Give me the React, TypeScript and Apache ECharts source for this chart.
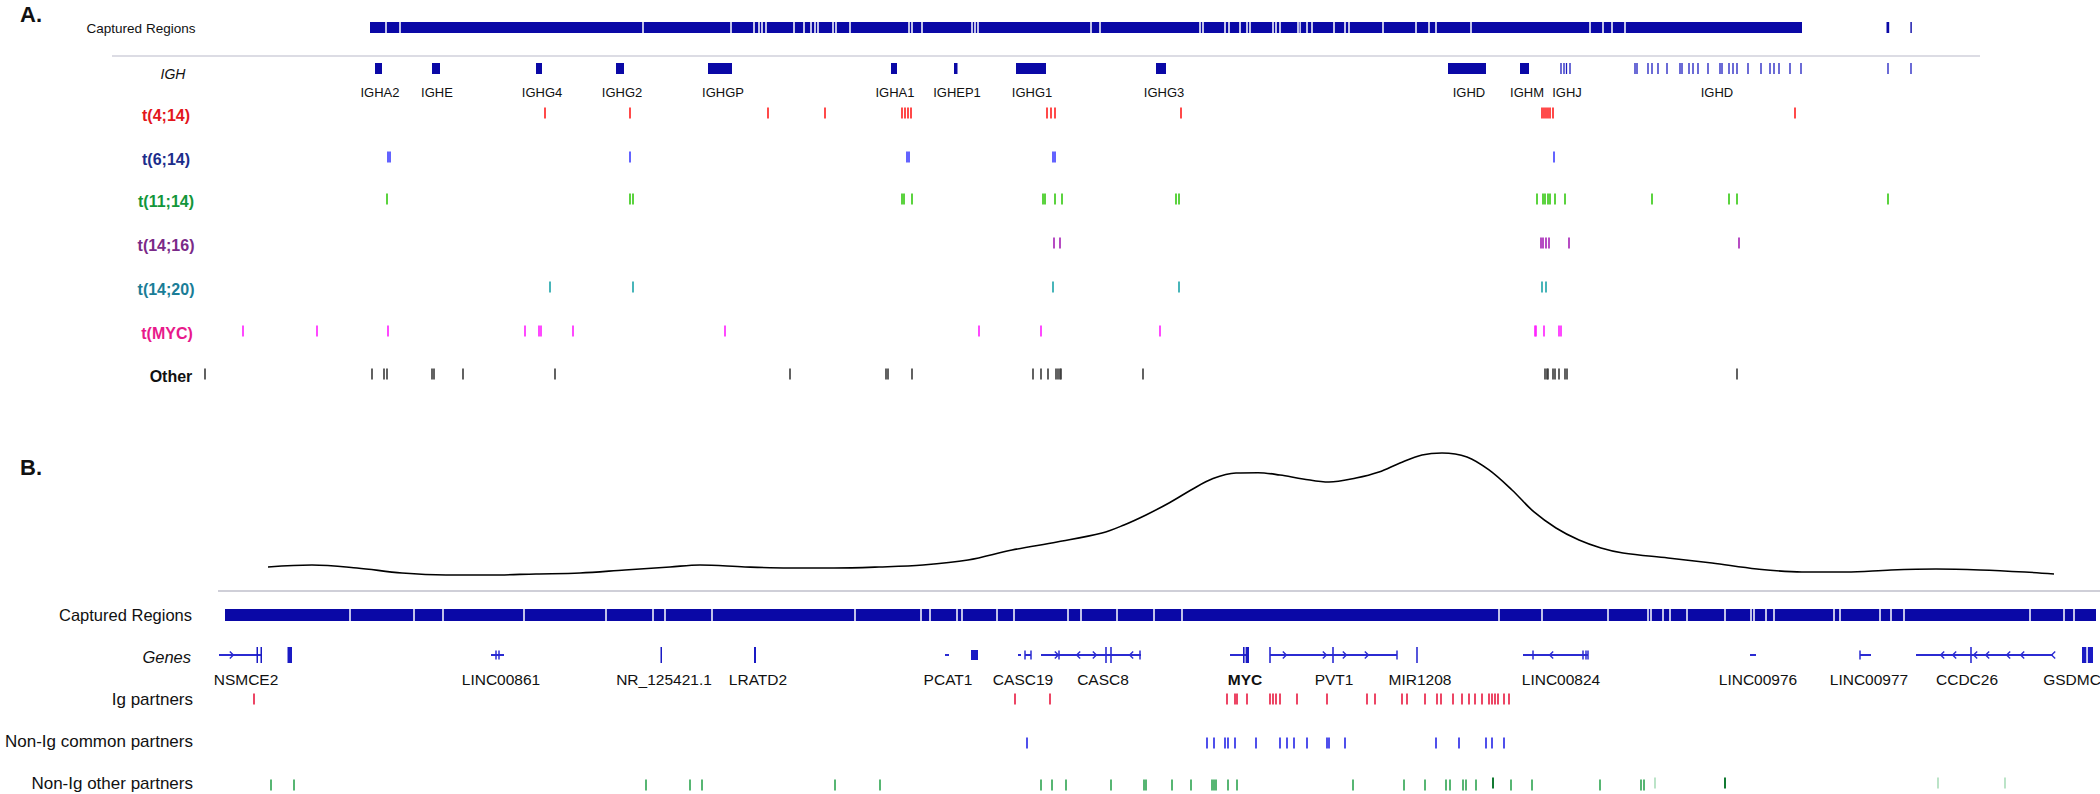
import React, { useEffect, useRef } from "react";
import * as echarts from "echarts";

// ---------------- Panel A : IGH locus (track position units) ----------------
const captureAStart = 370;
const captureAEnd = 1802;
const captureAGaps = [386, 400, 643, 731, 754, 759, 762, 766, 794, 804, 811, 815, 818, 833, 836, 850, 909, 912, 922, 972, 975, 978, 1091, 1100, 1200, 1203, 1225, 1229, 1240, 1247, 1250, 1273, 1276, 1280, 1298, 1300, 1307, 1312, 1334, 1345, 1349, 1383, 1416, 1429, 1436, 1471, 1590, 1603, 1612, 1625];
const captureAExtra = [[1886.5, 1889.2], [1910.4, 1911.8]];

const ighStart = [375, 432, 536, 616, 708, 891, 954, 1016, 1156, 1448, 1520];
const ighEnd = [382, 440, 542, 624, 732, 897, 957.5, 1046, 1166, 1486, 1529];
const ighSegments = [1561, 1564, 1566.5, 1570, 1635, 1637, 1648, 1652, 1658, 1667, 1680, 1682, 1689, 1693, 1698, 1708, 1720, 1722, 1729, 1733, 1737, 1748, 1761, 1770, 1774, 1779, 1790, 1801, 1888, 1911];
const ighLabels = ["IGHA2", "IGHE", "IGHG4", "IGHG2", "IGHGP", "IGHA1", "IGHEP1", "IGHG1", "IGHG3", "IGHD", "IGHM", "IGHJ", "IGHD"];
const ighLabelPos = [380, 437, 542, 622, 723, 895, 957, 1032, 1164, 1469, 1527, 1567, 1717];

const rowNamesA = ["t(4;14)", "t(6;14)", "t(11;14)", "t(14;16)", "t(14;20)", "t(MYC)", "Other"];
const t4_14 = [545, 630, 768, 825, 902, 905, 908, 911, 1047, 1051, 1055, 1181, 1542, 1544, 1546, 1548, 1550, 1553, 1795];
const t6_14 = [388, 390, 630, 907, 909, 1053, 1055, 1554];
const t11_14 = [387, 630, 633, 902, 904, 912, 1043, 1045, 1055, 1062, 1176, 1179, 1537, 1543, 1545, 1548, 1550, 1555, 1565, 1652, 1729, 1737, 1888];
const t14_16 = [1054, 1060, 1541, 1543, 1546, 1549, 1569, 1739];
const t14_20 = [550, 633, 1053, 1179, 1542, 1546];
const tMYC = [243, 317, 388, 525, 539, 541, 573, 725, 979, 1041, 1160, 1535, 1536, 1544, 1559, 1561];
const otherA = [205, 372, 384, 387, 432, 434, 463, 555, 790, 886, 888, 912, 1033, 1041, 1048, 1056, 1058, 1060, 1061, 1143, 1545, 1547, 1548, 1553, 1555, 1559, 1565, 1567, 1737];
const rowValuesA = [t4_14, t6_14, t11_14, t14_16, t14_20, tMYC, otherA];

// ---------------- Panel B : MYC region ----------------
const densityPos = [268, 312, 357, 402, 446, 491, 536, 580, 625, 670, 700, 745, 789, 834, 879, 923, 968, 1012, 1057, 1102, 1124, 1146, 1169, 1191, 1213, 1236, 1258, 1280, 1303, 1329, 1356, 1379, 1400, 1422, 1442, 1467, 1489, 1512, 1534, 1556, 1579, 1601, 1623, 1668, 1712, 1757, 1802, 1846, 1891, 1936, 1980, 2025, 2054];
const densityVal = [0.085, 0.1, 0.077, 0.038, 0.023, 0.023, 0.031, 0.038, 0.062, 0.085, 0.1, 0.085, 0.077, 0.077, 0.085, 0.1, 0.138, 0.215, 0.277, 0.346, 0.408, 0.485, 0.577, 0.677, 0.765, 0.808, 0.81, 0.792, 0.762, 0.738, 0.769, 0.815, 0.885, 0.946, 0.962, 0.931, 0.831, 0.677, 0.508, 0.385, 0.292, 0.231, 0.192, 0.154, 0.115, 0.069, 0.046, 0.046, 0.062, 0.069, 0.062, 0.046, 0.031];

const captureBStart = 225;
const captureBEnd = 2096;
const captureBGaps = [350, 414, 443, 524, 606, 653, 665, 712, 855, 921, 930, 957, 962, 997, 1014, 1068, 1081, 1117, 1154, 1182, 1499, 1542, 1608, 1648, 1651, 1663, 1670, 1687, 1725, 1751, 1754, 1766, 1774, 1834, 1840, 1880, 1891, 1904, 2030, 2064, 2074];

const geneLinesB = [[219, 262], [491, 504], [945, 949], [1018, 1021], [1025, 1031], [1041, 1141], [1230, 1247], [1270, 1397], [1523, 1588], [1750, 1756], [1860, 1871], [1916, 2053]];
const geneExonsB = [[256.5, 258], [260.5, 262], [287.5, 292], [660.5, 662], [754, 756], [1243, 1244.6], [1245.6, 1249], [2082, 2086.3], [2087.8, 2093]];
const geneUtrB = [[971, 978]];
const geneTallTicksB = [1106, 1111, 1270, 1333, 1417, 1971];
const geneShortTicksB = [496, 499, 1025, 1031, 1059, 1140, 1397, 1533, 1583, 1586, 1588, 1860];
const geneArrowsB = [[232, 1], [1057, 1], [1078, -1], [1095, 1], [1131, -1], [1285, 1], [1325, 1], [1345, 1], [1367, 1], [1551, -1], [1942, -1], [1954, -1], [1975, -1], [1987, -1], [2008, -1], [2022, -1], [2053, -1]];
const geneLabelsB = ["NSMCE2", "LINC00861", "NR_125421.1", "LRATD2", "PCAT1", "CASC19", "CASC8", "MYC", "PVT1", "MIR1208", "LINC00824", "LINC00976", "LINC00977", "CCDC26", "GSDMC"];
const geneLabelPosB = [246, 501, 664, 758, 948, 1023, 1103, 1245, 1334, 1420, 1561, 1758, 1869, 1967, 2072];

const rowNamesB = ["Ig partners", "Non-Ig common partners", "Non-Ig other partners"];
const igPartners = [254, 1015, 1050, 1227, 1235, 1237, 1247, 1270, 1273, 1276, 1280, 1297, 1327, 1367, 1375, 1402, 1407, 1425, 1437, 1441, 1453, 1462, 1469, 1475, 1482, 1489, 1492, 1495, 1498, 1504, 1509];
const nonIgCommon = [1027, 1207, 1214, 1225, 1228, 1235, 1256, 1280, 1287, 1294, 1307, 1327, 1329, 1345, 1436, 1459, 1486, 1492, 1504];
const nonIgOther = [271, 294, 646, 690, 702, 835, 880, 1041, 1052, 1066, 1111, 1144, 1146, 1172, 1191, 1212, 1214, 1216, 1228, 1237, 1353, 1404, 1425, 1446, 1450, 1463, 1466, 1476, 1511, 1532, 1600, 1641, 1644];
const nonIgOtherStrong = [1493, 1725];
const nonIgOtherFaint = [1655, 1938, 2005];

// ---------------- layout & style ----------------
const W = 2100;
const H = 794;
const FONT = '"Liberation Sans", Arial, Helvetica, sans-serif';
const NARROW = '"Liberation Sans Narrow", "Arial Narrow", "Liberation Sans", sans-serif';
const rowYA = [113, 157, 199, 243, 287, 331, 374];
const rowLabelXA = [166, 166, 166, 166, 166, 167, 171];
const rowLabelColorA = ["#e3161c", "#1c2d8c", "#13963a", "#7a2a88", "#1a7d97", "#e8198b", "#111111"];
const tickColorA = ["#ff1c1c", "#3c3cff", "#33c80f", "#a41fb4", "#1aa3a8", "#ff1cff", "#3a3a3a"];
const rowYB = [699, 743, 785];
const rowLabelYB = [699, 741, 783];
const BLUE_BAR = "#0a08a6";
const GENE_BLUE = "#2b2bd2";
const geneYB = 655;

function splitByGaps(start: number, end: number, gaps: number[], gapW: number): number[][] {
  const segs: number[][] = [];
  let s = start;
  for (const g of gaps) {
    segs.push([s, g - gapW / 2]);
    s = g + gapW / 2;
  }
  segs.push([s, end]);
  return segs;
}

function rectSeries(segs: number[][], y0: number, y1: number, color: string, minW = 0.8) {
  return {
    type: "custom",
    xAxisIndex: 0,
    yAxisIndex: 0,
    silent: true,
    data: segs.map((s) => [s[0], s[1], y0]),
    encode: { x: [0, 1], y: 2 },
    renderItem: (params: any, api: any) => {
      const a = api.coord([api.value(0), y0]);
      const b = api.coord([api.value(1), y1]);
      const w = Math.max(b[0] - a[0], minW);
      return { type: "rect", shape: { x: a[0], y: a[1], width: w, height: b[1] - a[1] }, style: { fill: color } };
    },
  };
}

function tickSeries(xs: number[], y: number, color: string, h = 11, w = 1.6) {
  return {
    type: "scatter",
    xAxisIndex: 0,
    yAxisIndex: 0,
    silent: true,
    symbol: "rect",
    symbolSize: [w, h],
    data: xs.map((x) => [x, y]),
    itemStyle: { color, opacity: 1 },
  };
}

function labelSeries(names: string[], xs: number[], y: number, font: string, color: string, boldName?: string, boldFont?: string) {
  return {
    type: "custom",
    xAxisIndex: 0,
    yAxisIndex: 0,
    silent: true,
    data: xs.map((x, i) => [x, y, i]),
    encode: { x: 0, y: 1 },
    renderItem: (params: any, api: any) => {
      const p = api.coord([api.value(0), api.value(1)]);
      const name = names[params.dataIndex];
      return {
        type: "text",
        x: p[0],
        y: p[1],
        style: {
          text: name,
          font: boldName && name === boldName ? boldFont : font,
          fill: color,
          align: "center",
          verticalAlign: "middle",
        },
      };
    },
  };
}

function arrowSeries(arrows: number[][], y: number, color: string) {
  return {
    type: "custom",
    xAxisIndex: 0,
    yAxisIndex: 0,
    silent: true,
    data: arrows.map((a) => [a[0], a[1], y]),
    encode: { x: 0, y: 2 },
    renderItem: (params: any, api: any) => {
      const p = api.coord([api.value(0), y]);
      const d = api.value(1);
      return {
        type: "polyline",
        shape: { points: [[p[0] - 2.2 * d, p[1] - 3.6], [p[0] + 1.4 * d, p[1]], [p[0] - 2.2 * d, p[1] + 3.6]] },
        style: { stroke: color, lineWidth: 1.4, fill: "none" },
      };
    },
  };
}

function text(str: string, x: number, y: number, font: string, fill: string, align = "center") {
  return { type: "text", x, y, silent: true, style: { text: str, font, fill, align, verticalAlign: "middle" } };
}

export default function App() {
  const ref = useRef<HTMLDivElement>(null);
  useEffect(() => {
    if (!ref.current) return;
    const chart = echarts.init(ref.current, undefined, { renderer: "svg" });

    const series: any[] = [];
    // Panel A
    series.push(rectSeries([...splitByGaps(captureAStart, captureAEnd, captureAGaps, 1.5), ...captureAExtra], 22, 33, BLUE_BAR));
    series.push(rectSeries(ighStart.map((s, i) => [s, ighEnd[i]]), 63, 74, BLUE_BAR, 1.5));
    series.push(tickSeries(ighSegments, 68.5, "#1c1cc0", 11, 1.3));
    series.push(labelSeries(ighLabels, ighLabelPos, 92, `13px ${FONT}`, "#111"));
    rowValuesA.forEach((xs, i) => series.push(tickSeries(xs, rowYA[i], tickColorA[i], 11, 1.6)));

    // Panel B
    series.push({
      type: "line",
      xAxisIndex: 1,
      yAxisIndex: 1,
      silent: true,
      smooth: 0.35,
      showSymbol: false,
      symbol: "none",
      data: densityPos.map((x, i) => [x, densityVal[i]]),
      lineStyle: { color: "#000", width: 1.6 },
    });
    series.push(rectSeries(splitByGaps(captureBStart, captureBEnd, captureBGaps, 1.5), 609, 621, BLUE_BAR));
    series.push(rectSeries(geneLinesB, geneYB - 1, geneYB + 1, GENE_BLUE));
    series.push(rectSeries(geneExonsB, geneYB - 8, geneYB + 8, "#1a1ac4", 1.5));
    series.push(rectSeries(geneUtrB, geneYB - 5, geneYB + 5, "#1a1ac4", 1.5));
    series.push(tickSeries(geneTallTicksB, geneYB, GENE_BLUE, 16, 1.6));
    series.push(tickSeries(geneShortTicksB, geneYB, GENE_BLUE, 9, 1.5));
    series.push(arrowSeries(geneArrowsB, geneYB, GENE_BLUE));
    series.push(labelSeries(geneLabelsB, geneLabelPosB, 679, `15.5px ${NARROW}`, "#111", "MYC", `bold 15.5px ${NARROW}`));
    series.push(tickSeries(igPartners, rowYB[0], "#e8173e", 11, 1.6));
    series.push(tickSeries(nonIgCommon, rowYB[1], "#2424e6", 11, 1.6));
    series.push(tickSeries(nonIgOther, rowYB[2], "#1f9e45", 11, 1.5));
    series.push(tickSeries(nonIgOtherStrong, rowYB[2] - 2, "#127a32", 11, 2));
    series.push(tickSeries(nonIgOtherFaint, rowYB[2] - 2, "#9fd8b0", 11, 1.4));

    const graphic: any[] = [
      text("A.", 31, 14, `bold 22px ${FONT}`, "#111"),
      text("B.", 31, 467, `bold 22px ${FONT}`, "#111"),
      text("Captured Regions", 141, 28, `13.5px ${FONT}`, "#111"),
      text("IGH", 173, 74, `italic 14px ${FONT}`, "#111"),
      ...rowNamesA.map((n, i) => text(n, rowLabelXA[i], rowYA[i] + 2, `bold 16px ${FONT}`, rowLabelColorA[i])),
      { type: "line", silent: true, shape: { x1: 112, y1: 56, x2: 1980, y2: 56 }, style: { stroke: "#dcdce4", lineWidth: 2 } },
      { type: "line", silent: true, shape: { x1: 218, y1: 591, x2: 2100, y2: 591 }, style: { stroke: "#cfcfd8", lineWidth: 2 } },
      text("Captured Regions", 192, 615, `16.5px ${NARROW}`, "#111", "right"),
      text("Genes", 191, 657, `italic 16.5px ${NARROW}`, "#111", "right"),
      ...rowNamesB.map((n, i) => text(n, 193, rowLabelYB[i], `17px ${FONT}`, "#111", "right")),
    ];

    chart.setOption({
      animation: false,
      backgroundColor: "#ffffff",
      grid: [
        { left: 0, top: 0, width: W, height: H },
        { left: 0, top: 448, width: W, height: 130 },
      ],
      xAxis: [
        { type: "value", gridIndex: 0, min: 0, max: W, show: false },
        { type: "value", gridIndex: 1, min: 0, max: W, show: false },
      ],
      yAxis: [
        { type: "value", gridIndex: 0, min: 0, max: H, inverse: true, show: false },
        { type: "value", gridIndex: 1, min: 0, max: 1, show: false },
      ],
      graphic,
      series,
    });
    return () => chart.dispose();
  }, []);
  return <div ref={ref} style={{ position: "absolute", left: 0, top: 0, width: W, height: H, background: "#fff" }} />;
}
